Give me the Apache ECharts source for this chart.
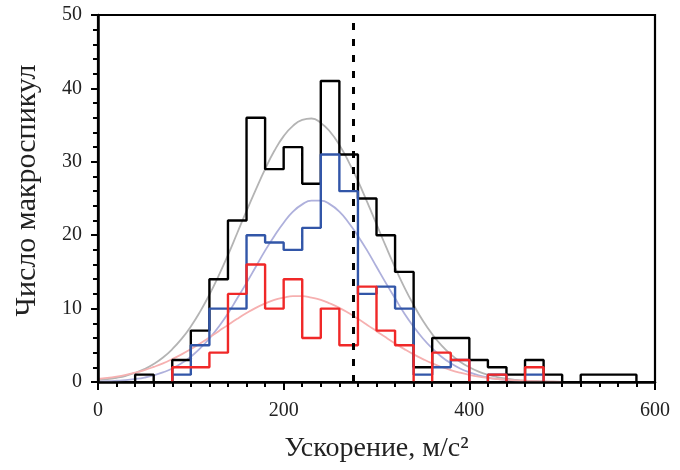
<!DOCTYPE html>
<html><head><meta charset="utf-8">
<script src="https://cdn.jsdelivr.net/npm/echarts@6/dist/echarts.min.js"></script>
<style>html,body{margin:0;padding:0;background:#fff}#c{width:680px;height:470px}</style>
</head><body><div id="c"></div>
<script>
// ---- data ----
const binStarts = [0,20,40,60,80,100,120,140,160,180,200,220,240,260,280,300,320,340,360,380,400,420,440,460,480,500,520,540,560,580];
const binEnd = 600;
const countsAll  = [0,0,1,0,3,7,14,22,36,29,32,27,41,31,25,20,15,2,6,6,3,2,1,3,1,0,1,1,1,0];
const countsBlue = [0,0,0,0,1,5,10,10,20,19,18,21,31,26,12,13,10,1,2,3,0,1,0,1,0,0,0,0,0,0];
const countsRed  = [0,0,0,0,2,2,4,12,16,10,14,6,10,5,13,7,5,0,4,3,0,1,0,2,0,0,0,0,0,0];
const curveX    = [0,10,20,30,40,50,60,70,80,90,100,110,120,130,140,150,160,170,180,190,200,210,220,230,240,250,260,270,280,290,300,310,320,330,340,350,360,370,380,390,400,410,420,430,440,450,460,470,480,490,500];
const curveAll  = [0.25,0.38,0.58,0.85,1.23,1.75,2.44,3.33,4.47,5.87,7.57,9.59,11.9,14.5,17.3,20.3,23.3,26.2,29.0,31.5,33.5,34.9,35.7,35.9,35.3,34.1,32.3,30.0,27.4,24.5,21.5,18.5,15.6,12.9,10.5,8.34,6.52,4.99,3.76,2.77,2.0,1.42,0.99,0.67,0.45,0.30,0.19,0.12,0.07,0.05,0.03];
const curveBlue = [0.06,0.10,0.17,0.26,0.41,0.61,0.90,1.31,1.84,2.55,3.45,4.58,5.93,7.53,9.34,11.4,13.5,15.7,17.9,19.9,21.7,23.2,24.2,24.7,24.7,24.2,23.2,21.7,19.9,17.9,15.7,13.5,11.4,9.34,7.53,5.93,4.58,3.45,2.55,1.84,1.31,0.90,0.61,0.41,0.26,0.17,0.10,0.06,0.04,0.02,0.01];
const curveRed  = [0.41,0.55,0.74,0.98,1.27,1.62,2.05,2.54,3.12,3.76,4.48,5.26,6.08,6.93,7.78,8.61,9.39,10.1,10.7,11.2,11.5,11.7,11.7,11.5,11.2,10.7,10.1,9.39,8.61,7.78,6.93,6.08,5.26,4.48,3.76,3.12,2.54,2.05,1.62,1.27,0.98,0.74,0.55,0.41,0.30,0.21,0.15,0.10,0.07,0.05,0.03];
const thresholdX = 275;
const xTicks = [0,200,400,600];
const yTicks = [0,10,20,30,40,50];
const xTitle = 'Ускорение, м/с²';
const yTitle = 'Число макроспикул';

// ---- build: histogram outline, leaving out runs that lie on the zero line ----
function outline(counts){
  const d = [];
  const n = counts.length;
  const edge = i => (i < n ? binStarts[i] : binEnd);
  for (let i = 0; i < n; i++){
    const h = counts[i];
    if (h <= 0) continue;
    const prev = i > 0 ? counts[i-1] : 0;
    const next = i < n-1 ? counts[i+1] : 0;
    if (prev <= 0) d.push([edge(i), 0]);
    d.push([edge(i), h]);
    d.push([edge(i+1), h]);
    if (next <= 0){ d.push([edge(i+1), 0]); d.push(null); }
  }
  return d;
}
function curveData(vals){ return curveX.map((x,i)=>[x, vals[i]]); }

const font = 'Liberation Serif';
const chart = echarts.init(document.getElementById('c'), null, {renderer:'canvas'});
chart.setOption({
  animation:false,
  backgroundColor:'#fff',
  grid:{left:98, right:25, top:15, bottom:88, show:true, borderColor:'#000', borderWidth:2.2, backgroundColor:'transparent'},
  xAxis:{
    type:'value', min:xTicks[0], max:xTicks[xTicks.length-1], interval:200, z:5,
    axisLine:{lineStyle:{color:'#000', width:2.5}},
    axisTick:{show:true, length:8, inside:false, lineStyle:{color:'#000', width:2}},
    minorTick:{show:true, splitNumber:10, length:5, lineStyle:{color:'#000', width:2}},
    splitLine:{show:false},
    axisLabel:{fontFamily:font, fontSize:20, color:'#222', margin:19},
    name:xTitle, nameLocation:'middle', nameGap:53,
    nameTextStyle:{fontFamily:font, fontSize:28, color:'#222'}
  },
  yAxis:{
    type:'value', min:yTicks[0], max:yTicks[yTicks.length-1], interval:10, z:5,
    axisLine:{show:true, lineStyle:{color:'#000', width:2.5}},
    axisTick:{show:true, length:7, inside:false, lineStyle:{color:'#000', width:2}},
    minorTick:{show:true, splitNumber:5, length:5, lineStyle:{color:'#000', width:2}},
    splitLine:{show:false},
    axisLabel:{fontFamily:font, fontSize:20, color:'#222', margin:16},
    name:yTitle, nameLocation:'middle', nameGap:56, nameRotate:90,
    nameTextStyle:{fontFamily:font, fontSize:30, color:'#222', padding:[0,0,0,16]}
  },
  series:[
    {type:'line', smooth:true, symbol:'none', data:curveData(curveAll), lineStyle:{color:'#b4b4b4', width:1.8}, z:2},
    {type:'line', smooth:true, symbol:'none', data:curveData(curveBlue), lineStyle:{color:'#aeb0dc', width:1.8}, z:2},
    {type:'line', smooth:true, symbol:'none', data:curveData(curveRed), lineStyle:{color:'#f6b0b0', width:1.8}, z:2},
    {type:'line', symbol:'none', connectNulls:false, data:outline(countsAll), lineStyle:{color:'#000', width:2.4}, z:3,
      markLine:{silent:true, symbol:'none', label:{show:false},
        lineStyle:{color:'#000', width:3, type:[7,9]},
        data:[{xAxis:thresholdX}]}},
    {type:'line', symbol:'none', connectNulls:false, data:outline(countsBlue), lineStyle:{color:'#3256a8', width:2.4}, z:3},
    {type:'line', symbol:'none', connectNulls:false, data:outline(countsRed), lineStyle:{color:'#f02828', width:2.4}, z:3}
  ]
});
</script></body></html>
